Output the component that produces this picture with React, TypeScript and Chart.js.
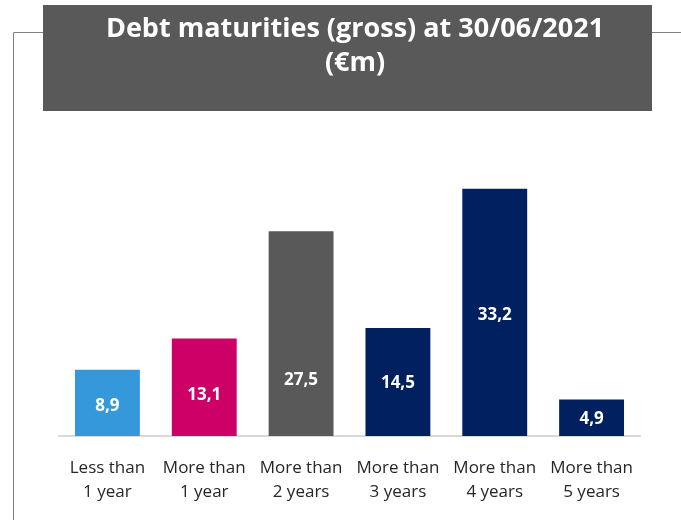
import React, { useEffect, useRef } from "react";
import { Chart, registerables } from "chart.js";

Chart.register(...registerables);

const categories: string[][] = [
  ["Less than", "1 year"],
  ["More than", "1 year"],
  ["More than", "2 years"],
  ["More than", "3 years"],
  ["More than", "4 years"],
  ["More than", "5 years"],
];
const values: number[] = [8.9, 13.1, 27.5, 14.5, 33.2, 4.9];
const valueLabels: string[] = ["8,9", "13,1", "27,5", "14,5", "33,2", "4,9"];
// value (in €m on the axis) at which each bar's label sits
const labelAnchors: number[] = [4.0, 5.5, 7.5, 7.1, 16.2, 2.3];
const barColors: string[] = ["#3498DB", "#CC0066", "#595959", "#002060", "#002060", "#002060"];
const titleLines: string[] = ["Debt maturities (gross) at 30/06/2021", "(€m)"];

const FONT = "'Open Sans', 'Noto Sans', sans-serif";

const framePlugin = {
  id: "frameAndTitle",
  beforeDraw(chart: any) {
    const ctx = chart.ctx;
    ctx.save();
    ctx.strokeStyle = "#808080";
    ctx.lineWidth = 1;
    ctx.beginPath();
    ctx.moveTo(13.5, 520);
    ctx.lineTo(13.5, 32.5);
    ctx.lineTo(43, 32.5);
    ctx.moveTo(652, 32.5);
    ctx.lineTo(681, 32.5);
    ctx.stroke();
    ctx.fillStyle = "#595959";
    ctx.fillRect(43, 5, 609, 106);
    ctx.fillStyle = "#FFFFFF";
    ctx.font = `bold 27px ${FONT}`;
    ctx.textAlign = "center";
    ctx.textBaseline = "middle";
    ctx.fillText(titleLines[0], 355, 29);
    ctx.fillText(titleLines[1], 355, 63);
    ctx.restore();
  },
  afterDatasetsDraw(chart: any) {
    const ctx = chart.ctx;
    const meta = chart.getDatasetMeta(0);
    const yScale = chart.scales.y;
    ctx.save();
    ctx.fillStyle = "#FFFFFF";
    ctx.font = `bold 17px ${FONT}`;
    ctx.textAlign = "center";
    ctx.textBaseline = "middle";
    meta.data.forEach((bar: any, i: number) => {
      ctx.fillText(valueLabels[i], bar.x, yScale.getPixelForValue(labelAnchors[i]));
    });
    ctx.restore();
  },
};

export default function App() {
  const canvasRef = useRef<HTMLCanvasElement | null>(null);

  useEffect(() => {
    if (!canvasRef.current) return;
    const chart = new Chart(canvasRef.current, {
      type: "bar",
      data: {
        labels: categories,
        datasets: [
          {
            data: values,
            backgroundColor: barColors,
            borderWidth: 0,
            categoryPercentage: 0.67,
            barPercentage: 1,
          },
        ],
      },
      options: {
        responsive: false,
        animation: false,
        layout: { padding: { top: 168, left: 59, right: 41, bottom: 16 } },
        plugins: {
          legend: { display: false },
          title: { display: false },
          tooltip: { enabled: false },
        },
        scales: {
          x: {
            grid: { display: false, drawTicks: false },
            border: { display: true, color: "#D9D9D9", width: 2 },
            afterFit: (scale: any) => {
              scale.height = 68;
            },
            ticks: {
              color: "#262626",
              padding: 20,
              maxRotation: 0,
              autoSkip: false,
              font: { family: FONT, size: 17, lineHeight: 1.42 },
            },
          },
          y: {
            display: false,
            min: 0,
            max: 36,
          },
        },
      },
      plugins: [framePlugin],
    });
    return () => chart.destroy();
  }, []);

  return (
    <div style={{ position: "fixed", left: 0, top: 0, width: 681, height: 520, background: "#fff" }}>
      <canvas ref={canvasRef} width={681} height={520} />
    </div>
  );
}
